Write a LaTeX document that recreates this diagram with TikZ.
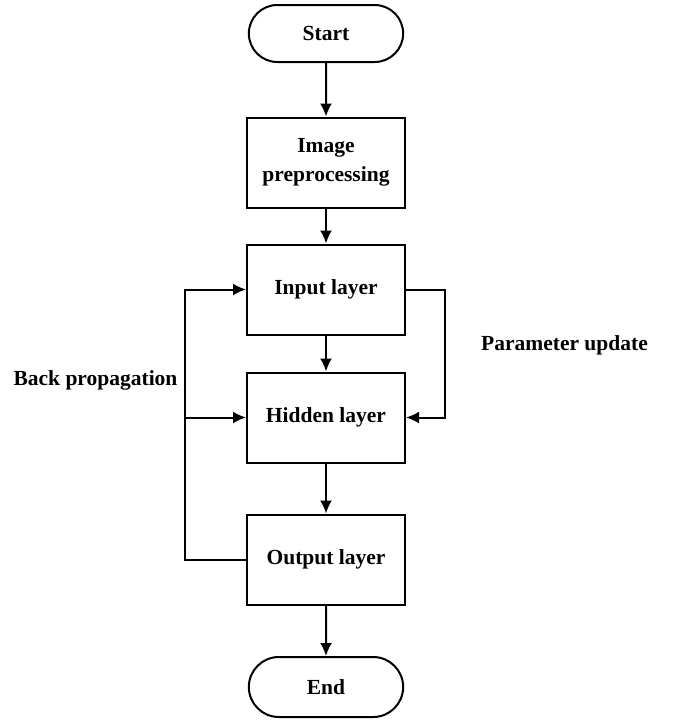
\documentclass[tikz,border=0pt]{standalone}
\usepackage{fontspec}
\setmainfont{Liberation Serif}
\usetikzlibrary{positioning,arrows.meta,shapes.misc}
\tikzset{
  stepbox/.style={draw, line width=2pt, minimum width=158pt, minimum height=90pt,
    align=center, font=\fontsize{21.5}{27}\selectfont\bfseries},
  termbox/.style={draw, line width=2pt, rounded rectangle, minimum width=161pt,
    minimum height=57pt, font=\fontsize{21.5}{27}\selectfont\bfseries},
  flow/.style={line width=2pt, -{Latex[length=13pt,width=12pt]}},
  lbl/.style={font=\fontsize{21.5}{27}\selectfont\bfseries}
}

\begin{document}
\begin{tikzpicture}[x=1pt,y=-1pt]
\useasboundingbox (0,0) rectangle (675,721);
% main column
\node[termbox] (start) at (326,33.5) {Start};
\node[stepbox] (prep) at (326,162.5) {Image\\[2pt]preprocessing};
\node[stepbox] (input) at (326,289.5) {Input layer};
\node[stepbox] (hidden) at (326,417.5) {Hidden layer};
\node[stepbox] (output) at (326,559.5) {Output layer};
\node[termbox, minimum height=60pt] (end) at (326,687) {End};
\draw[flow] (start) -- (prep);
\draw[flow] (prep) -- (input);
\draw[flow] (input) -- (hidden);
\draw[flow] (hidden) -- (output);
\draw[flow] (output) -- (end);
% back propagation loop
\coordinate (bp) at (185,417.5);
\draw[flow] (output.west) -| (bp) |- (input.west);
\draw[flow] (bp) -- (hidden.west);
\node[lbl] (bplabel) at (95.5,380) {Back propagation};
% parameter update loop
\coordinate (pu) at (445,289.5);
\draw[flow] (input.east) -- (pu) |- (hidden.east);
\node[lbl] (pulabel) at (564.5,345) {Parameter update};
\end{tikzpicture}
\end{document}
